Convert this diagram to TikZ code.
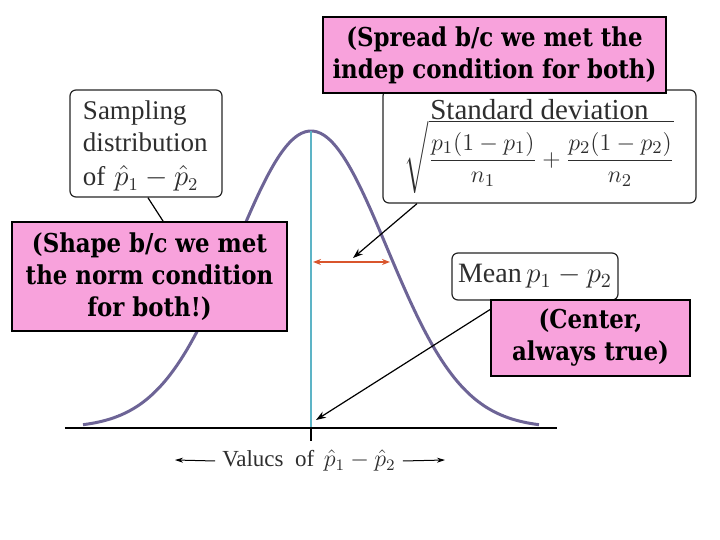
\documentclass[tikz,border=0pt]{standalone}
\usepackage{amsmath}
\usepackage{fontspec}
\setmainfont{Liberation Serif}
\newfontfamily\calloutfont[FakeStretch=0.88]{DejaVu Serif}
\usepackage{tikz}
\usetikzlibrary{arrows.meta}

\definecolor{calloutpink}{HTML}{F8A2DC}
\definecolor{curvepurple}{HTML}{6D6496}
\definecolor{meancyan}{HTML}{5DB4C6}
\definecolor{spreadred}{HTML}{D9552C}
\definecolor{booktext}{HTML}{2E2E2E}

\tikzset{
  bookbox/.style={draw=black!85, line width=0.6pt, rounded corners=3pt, fill=white,
    text=booktext, inner sep=0pt},
  callout/.style={draw=black, line width=1.4pt, fill=calloutpink, align=center,
    inner sep=0pt, font=\calloutfont\bfseries\fontsize{13}{16}\selectfont},
  pointer/.style={draw=black, line width=0.6pt, -{Stealth[length=5pt,width=3.5pt]}},
  axisarrow/.style={draw=black, line width=0.5pt, -{Stealth[length=4pt,width=2.5pt]}},
}

\begin{document}
\begin{tikzpicture}[x=0.5pt,y=-0.5pt]
\useasboundingbox (0,0) rectangle (720,540);

% curve, axis and mean line
\draw[curvepurple, line width=1.5pt] plot[domain=83:539, samples=120, smooth]
  (\x, {428 - 297*exp(-((\x-311)/76)^2/2)});
\coordinate (peak) at (311,131);
\coordinate (centre) at (311,428);
\coordinate (tickend) at (311,441);
\draw[meancyan, line width=0.8pt] (peak) -- (centre);
\draw[black, line width=0.9pt] (65,428) -- (557,428);
\draw[black, line width=0.9pt] (centre) -- (tickend);

% one standard deviation
\coordinate (sdleft) at (313,262);
\coordinate (sdright) at (390,262);
\draw[spreadred, line width=0.9pt, {Stealth[length=4pt,width=3pt]}-{Stealth[length=4pt,width=3pt]}] (sdleft) -- (sdright);

% axis label
\node[text=booktext, font=\fontsize{11.5}{13}\selectfont] (vals) at (309,461)
  {Valucs\ \ of\ \,$\hat{p}_1-\hat{p}_2$};
\coordinate (valsleft) at (175,460);
\coordinate (valsright) at (445,460);
\draw[axisarrow] (vals.west) -- (valsleft);
\draw[axisarrow] (vals.east) -- (valsright);

% textbook labels
\node[bookbox, text width=63pt, minimum height=53.5pt, align=left, inner xsep=6.5pt,
  font=\fontsize{13.5}{16}\selectfont] (samp) at (146,143.5)
  {\rule{0pt}{12pt}Sampling\\ distribution\\[1pt] of\ $\hat{p}_1-\hat{p}_2$};
\coordinate (sampend) at (172,235);
\draw[black, line width=0.6pt] (samp.272) -- (sampend);

\node[bookbox, minimum width=156.5pt, minimum height=56.5pt, align=center,
  font=\fontsize{14.5}{16}\selectfont] (std) at (539.5,146.5)
  {Standard deviation\\[-1pt]
   {\fontsize{12.5}{14}\selectfont$\displaystyle\sqrt{\frac{p_1(1-p_1)}{n_1}+\frac{p_2(1-p_2)}{n_2}}$}};
\coordinate (stdtip) at (353,258);
\draw[pointer] (std.205) -- (stdtip);

\node[bookbox, minimum width=83pt, minimum height=23.5pt,
  font=\fontsize{14}{16}\selectfont] (mean) at (535,276.5)
  {Mean\,$p_1-p_2$};
\coordinate (meantip) at (316,420);
\draw[pointer] (mean.218) -- (meantip);

% added notes
\node[callout, minimum width=171.5pt, minimum height=38pt] (spread) at (494.5,55)
  {(Spread b/c we met the\\ indep condition for both)};
\node[callout, minimum width=137.5pt, minimum height=54.5pt] (shape) at (149.5,276.5)
  {(Shape b/c we met\\ the norm condition\\ for both!)};
\node[callout, minimum width=99.5pt, minimum height=38pt] (center) at (590.5,338)
  {(Center,\\ always true)};
\end{tikzpicture}
\end{document}
